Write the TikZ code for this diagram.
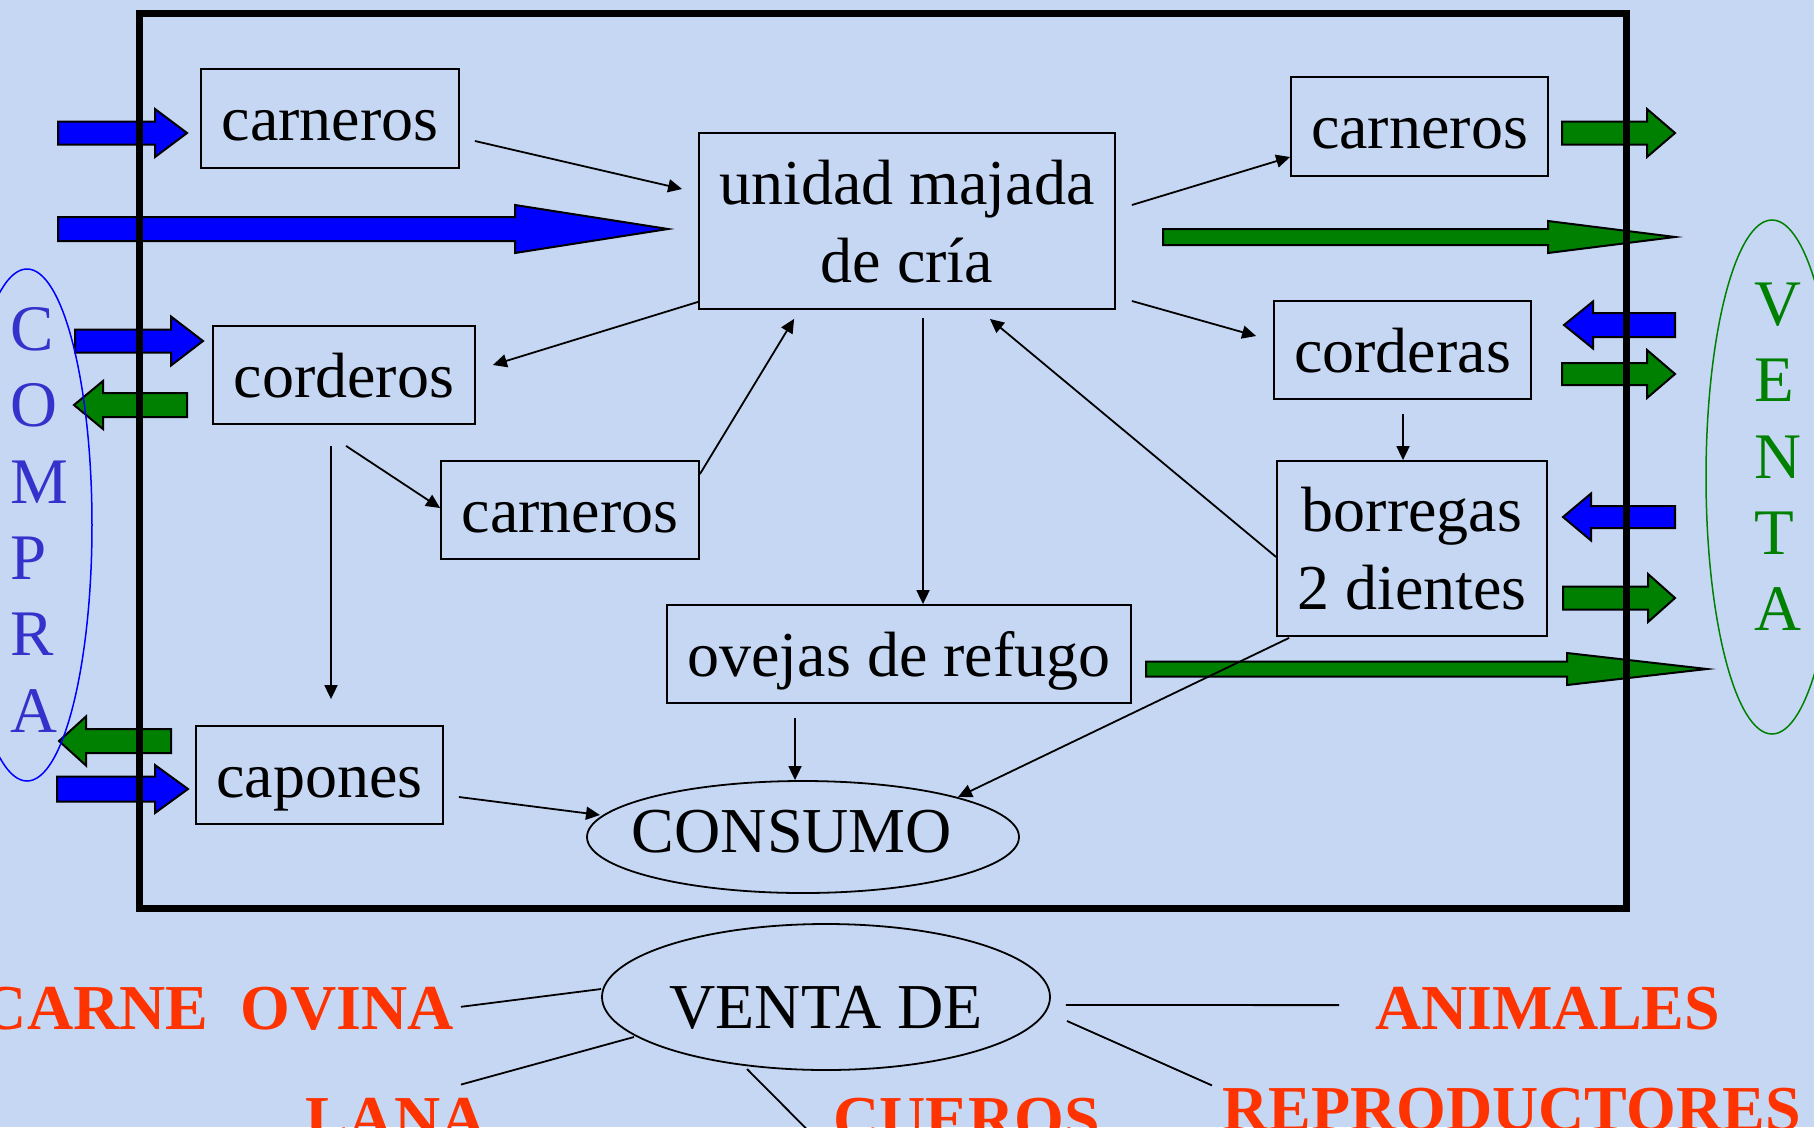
\documentclass[tikz,border=0pt]{standalone}
\usepackage{fontspec}
\setmainfont{Liberation Serif}
\usetikzlibrary{arrows.meta,shapes.geometric,calc}
\definecolor{bgc}{RGB}{198,215,243}
\definecolor{pblue}{RGB}{0,0,255}
\definecolor{pgreen}{RGB}{0,128,0}
\definecolor{comprac}{RGB}{51,51,204}
\definecolor{redo}{RGB}{255,51,0}
\newcommand\lnstrut{\rule[-7pt]{0pt}{58pt}}
\newcommand\blkarrow[7]{%
  \filldraw[fill=#1, draw=black, line width=2pt]
    (#2,#5-#6) -- (#3,#5-#6) -- (#3,#5-#7) -- (#4,#5) -- (#3,#5+#7) -- (#3,#5+#6) -- (#2,#5+#6) -- cycle;}
\begin{document}
\begin{tikzpicture}[x=1pt,y=-1pt,
  rbox/.style={draw, line width=1.8pt, inner sep=0pt, font=\fontsize{64}{78}\selectfont, text height=51pt, text depth=7pt},
  rbox2/.style={draw, line width=1.8pt, inner sep=0pt, font=\fontsize{64}{78}\selectfont, align=center},
  ell/.style={draw, ellipse, line width=1.8pt, inner sep=0pt, text height=0pt, text depth=0pt, font=\fontsize{64}{78}\selectfont},
  conn/.style={line width=1.8pt, -{Triangle[length=14pt,width=13pt]}},
  bline/.style={line width=1.8pt},
  redtxt/.style={inner sep=0pt, text=redo, font=\bfseries\fontsize{64}{70}\selectfont},
  vletters/.style={inner sep=0pt, anchor=north west, align=left, font=\fontsize{65}{76.4}\selectfont}]
\useasboundingbox (0,0) rectangle (1814,1127);
\clip (0,0) rectangle (1814,1127);
\fill[bgc] (0,0) rectangle (1814,1127);

% block arrows
\blkarrow{pblue}{58}{155}{187}{133}{11.5}{24}
\blkarrow{pblue}{58}{515}{668}{229}{12}{24}
\blkarrow{pblue}{75}{171}{203}{341}{11.5}{24.5}
\blkarrow{pgreen}{187}{103}{74}{405}{12}{24}
\blkarrow{pgreen}{171}{86}{59}{741}{12}{24.5}
\blkarrow{pblue}{57}{155}{188}{789}{12.5}{24}
\blkarrow{pgreen}{1562}{1647}{1675}{133}{11.5}{24}
\blkarrow{pgreen}{1163}{1548}{1675}{237}{8}{16}
\blkarrow{pblue}{1675}{1593}{1564}{325}{12}{23.5}
\blkarrow{pgreen}{1562}{1647}{1675}{374}{11}{24}
\blkarrow{pblue}{1675}{1591}{1563}{517}{11}{23.5}
\blkarrow{pgreen}{1563}{1648}{1675}{598}{11.5}{24}
\blkarrow{pgreen}{1146}{1567}{1707}{669}{7.5}{16}

% frame
\draw[line width=7pt] (139.5,13.5) rectangle (1626,908.5);

% boxes
\node[rbox, minimum width=258pt, minimum height=99pt] (cTL) at (330,118.5) {carneros};
\node[rbox2, minimum width=416pt, minimum height=176pt] (unidad) at (907,221) {\lnstrut unidad majada\\\lnstrut de cría};
\node[rbox, minimum width=257pt, minimum height=99pt] (cTR) at (1419.5,126.5) {carneros};
\node[rbox, minimum width=257pt, minimum height=98pt] (corderas) at (1402.5,350) {corderas};
\node[rbox, minimum width=262pt, minimum height=98pt] (corderos) at (344,375) {corderos};
\node[rbox, minimum width=258pt, minimum height=98pt] (cMid) at (570,510) {carneros};
\node[rbox, minimum width=464pt, minimum height=98pt] (ovejas) at (899,654) {ovejas de refugo};
\node[rbox2, minimum width=270pt, minimum height=175pt] (borregas) at (1412,548.5) {\lnstrut borregas\\\lnstrut 2 dientes};
\node[rbox, minimum width=247pt, minimum height=98pt] (capones) at (319.5,775) {capones};
\node[ell, minimum width=432pt, minimum height=112pt] (consumo) at (803,837) {\makebox[0pt]{\raisebox{-15pt}{\hspace*{-22pt}CONSUMO}}};
\node[ell, minimum width=448pt, minimum height=146pt] (ventade) at (826,997) {\makebox[0pt]{\raisebox{-31pt}{VENTA DE}}};

% side ellipses and letters
\node[draw=pblue, line width=1.5pt, ellipse, minimum width=130pt, minimum height=512pt, inner sep=0pt] (compraell) at (27,525) {};
\node[draw=pgreen, line width=1.5pt, ellipse, minimum width=132pt, minimum height=514pt, inner sep=0pt] (ventaell) at (1772,477) {};
\node[vletters, text=comprac] (compra) at (10,300) {\rule{0pt}{50pt}C\\O\\M\\P\\R\\A};
\node[vletters, text=pgreen] (venta) at (1754,275) {\rule{0pt}{50pt}V\\E\\N\\T\\A};

% connectors
\draw[conn] ($(cTL.east)+(15,22.5)$) -- ($(unidad.west)+(-16,-32)$);
\draw[conn] ($(unidad.east)+(16,-16)$) -- ($(cTR.west)+(0,30.5)$);
\draw[conn] ($(unidad.east)+(16,80)$) -- ($(corderas.west)+(-17,-14)$);
\draw[conn] ($(unidad.south west)+(0,-8)$) -- ($(corderos.east)+(17,-10)$);
\draw[conn] ($(cMid.north east)+(0,14)$) -- ($(unidad.south west)+(96,9)$);
\draw[conn] ($(unidad.south)+(16,8)$) -- ($(ovejas.north)+(24,0)$);
\draw[conn] ($(borregas.west)+(0,8.5)$) -- ($(unidad.south east)+(-126,9)$);
\draw[conn] ($(corderas.south)+(0.5,14)$) -- ($(borregas.north)+(-9,0)$);
\draw[conn] ($(corderos.south)+(-13,21)$) -- ($(capones.north)+(11.5,-26)$);
\draw[conn] ($(corderos.south)+(2,21)$) -- ($(cMid.west)+(0,-2)$);
\draw[conn] ($(ovejas.south)+(-104,14)$) -- ($(consumo.north)+(-8,0)$);
\draw[conn] ($(capones.east)+(15,22)$) -- ($(consumo.center)+(-203,-22)$);
\draw[conn] ($(borregas.south west)+(13,1)$) -- ($(consumo.center)+(155,-40)$);

% bottom texts
\node[redtxt, anchor=base east] (carne) at (454,1029) {CARNE\ \ OVINA};
\node[redtxt, anchor=base west] (animales) at (1375,1029) {ANIMALES};
\node[redtxt, anchor=base west] (lana) at (305,1140) {LANA};
\node[redtxt, anchor=base west] (cueros) at (833,1140) {CUEROS};
\node[redtxt, anchor=base west] (reprod) at (1222,1130) {REPRODUCTORES};

\draw[bline] ($(carne.east)+(7,-1.5)$) -- ($(ventade.west)+(0,-8)$);
\draw[bline] ($(ventade.east)+(15,8)$) -- ($(animales.west)+(-36,-3)$);
\draw[bline] ($(lana.north west)+(156,-13)$) -- ($(ventade.center)+(-192,40)$);
\draw[bline] ($(ventade.center)+(-79,72)$) -- ($(cueros.north west)+(-19,39)$);
\draw[bline] ($(ventade.center)+(241,24)$) -- ($(reprod.north west)+(-10,-2)$);
\end{tikzpicture}
\end{document}
